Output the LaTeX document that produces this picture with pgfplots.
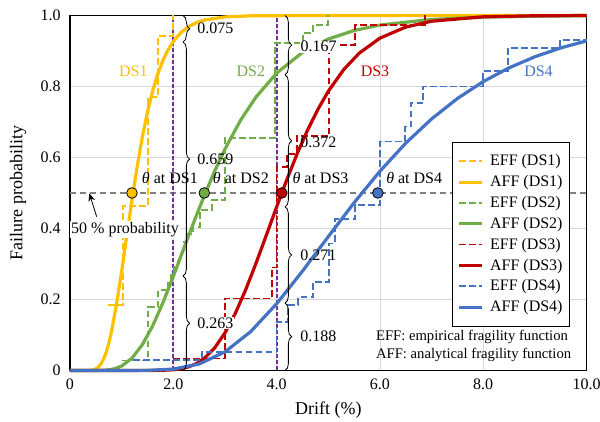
\documentclass[border=0pt]{standalone}
\usepackage{fontspec}
\setmainfont{Liberation Serif}
\usepackage{pgfplots}
\pgfplotsset{compat=1.18}
\usetikzlibrary{decorations.pathreplacing,arrows.meta}
\definecolor{cY}{HTML}{FFC000}
\definecolor{cG}{HTML}{70AD47}
\definecolor{cR}{HTML}{C00000}
\definecolor{cB}{HTML}{4472C4}
\definecolor{cV}{HTML}{7030A0}
\definecolor{cGray}{HTML}{7F7F7F}
\definecolor{cGrid}{HTML}{D9D9D9}
\tikzset{annot/.style={font=\fontsize{12}{14}\selectfont}}
\begin{document}
\begin{tikzpicture}
\begin{axis}[
  scale only axis, width=387.4pt, height=266.25pt,
  xmin=0, xmax=10, ymin=0, ymax=1,
  clip=false,
  xtick={0,2,4,6,8,10}, xticklabels={0,2.0,4.0,6.0,8.0,10.0},
  ytick={0,0.2,0.4,0.6,0.8,1}, yticklabels={0,0.2,0.4,0.6,0.8,1.0},
  /pgf/number format/assume math mode=true,
  grid=major, major grid style={draw=cGrid, line width=0.6pt},
  major tick length=0pt,
  axis line style={line width=1pt},
  tick label style={font=\fontsize{12}{14}\selectfont},
  xticklabel style={anchor=center, yshift=-10.1pt},
  yticklabel style={anchor=east, inner sep=0pt, xshift=-6.75pt},
  xlabel={Drift (\%)}, ylabel={Failure probability},
  label style={font=\fontsize{13.5}{16}\selectfont},
  xlabel style={at={(axis description cs:0.5,-0.111)}, anchor=center},
  ylabel style={at={(axis description cs:-0.1007,0.5)}, anchor=center},
  legend cell align=left,
  legend style={at={(0.739,0.6445)}, anchor=north west, draw=black, line width=0.6pt, fill=white,
    font=\fontsize{12}{14}\selectfont, inner xsep=4pt, inner ysep=8pt, row sep=2.8pt, column sep=3.5pt,
    nodes={inner sep=1.5pt}},
  eff/.style={line width=1.3pt, dash pattern=on 5pt off 2.5pt, const plot},
  aff/.style={line width=2.4pt, line join=round},
]
% reference lines
\addplot[forget plot, draw=cGray, line width=1.1pt, dash pattern=on 4.5pt off 3pt] coordinates {(0,0.5)(10,0.5)};
\addplot[forget plot, draw=cV, line width=1.4pt, dash pattern=on 3pt off 1.5pt] coordinates {(2,0)(2,1)};
\addplot[forget plot, draw=cV, line width=1.4pt, dash pattern=on 3pt off 1.5pt] coordinates {(4,0)(4,1)};

% DS1
\addplot[eff, draw=cY] coordinates {(0.742,0.184)(1.02,0.463)(1.516,0.77)(1.71,0.942)(2.0,1.0)};
\addlegendentry{EFF (DS1)}
\addplot[aff, draw=cY] coordinates {(0,0)(0.3,0)(0.4,0.0005)(0.45,0.0017)(0.5,0.0043)(0.55,0.0096)(0.6,0.0184)(0.65,0.032)(0.7,0.0511)(0.75,0.0762)(0.8,0.1073)(0.9,0.1854)(1.0,0.2793)(1.1,0.3802)(1.2,0.4805)(1.3,0.5741)(1.4,0.6572)(1.5,0.7283)(1.6,0.7873)(1.7,0.8355)(1.8,0.8737)(1.9,0.9037)(2.0,0.927)(2.15,0.9522)(2.3,0.9689)(2.45,0.9799)(2.6,0.987)(3.0,0.9959)(3.5,0.999)(4.5,0.9999)(10,1.0)};
\addlegendentry{AFF (DS1)}
% DS2
\addplot[eff, draw=cG] coordinates {(1.0,0.028)(1.516,0.179)(1.71,0.226)(1.90,0.246)(1.96,0.269)(2.02,0.292)(2.08,0.315)(2.14,0.338)(2.20,0.362)(2.26,0.385)(2.387,0.405)(2.517,0.452)(2.743,0.48)(3.0,0.654)(3.97,0.922)(4.505,0.95)(4.71,0.973)(5.0,1.0)};
\addlegendentry{EFF (DS2)}
\addplot[aff, draw=cG] coordinates {(0,0)(0.4,0)(0.6,0.0003)(0.7,0.0011)(0.8,0.0029)(0.9,0.0065)(1.0,0.0125)(1.2,0.0347)(1.4,0.0725)(1.6,0.1257)(1.8,0.1913)(2.0,0.265)(2.2,0.3424)(2.4,0.4192)(2.6,0.4928)(2.8,0.5614)(3.0,0.6236)(3.3,0.7043)(3.6,0.77)(4.0,0.8375)(4.5,0.8958)(5.0,0.9336)(5.5,0.9577)(6.0,0.973)(7.0,0.9888)(8.0,0.9953)(9.0,0.9979)(10,0.9991)};
\addlegendentry{AFF (DS2)}
% DS3
\addplot[eff, draw=cR] coordinates {(2.0,0.034)(3.0,0.203)(3.905,0.29)(4.0,0.574)(4.196,0.61)(4.39,0.66)(5.02,0.917)(5.518,0.973)(6.873,1.0)};
\addlegendentry{EFF (DS3)}
\addplot[aff, draw=cR] coordinates {(0,0)(1.4,0)(1.6,0.0001)(1.8,0.0005)(2.0,0.002)(2.15,0.0049)(2.3,0.0104)(2.45,0.0197)(2.6,0.0342)(2.8,0.0635)(3.0,0.1057)(3.2,0.1608)(3.4,0.227)(3.6,0.3015)(3.8,0.3806)(4.0,0.4606)(4.2,0.5384)(4.4,0.6112)(4.6,0.6773)(4.8,0.7357)(5.0,0.7864)(5.3,0.8478)(5.6,0.8939)(6.0,0.9361)(6.5,0.9673)(7.0,0.9838)(8.0,0.9963)(9.0,0.9992)(10,0.9998)};
\addlegendentry{AFF (DS3)}
% DS4
\addplot[eff, draw=cB] coordinates {(1.226,0.0296)(2.55,0.051)(4.0,0.137)(4.226,0.185)(4.42,0.206)(4.71,0.25)(5.02,0.358)(5.13,0.426)(5.518,0.466)(6.0,0.645)(6.486,0.687)(6.596,0.753)(6.84,0.80)(8.0,0.844)(8.486,0.908)(9.487,0.931)(10,0.931)};
\addlegendentry{EFF (DS4)}
\addplot[aff, draw=cB] coordinates {(0,0)(1.0,0)(1.5,0.0003)(2.0,0.0039)(2.5,0.0183)(3.0,0.0523)(3.5,0.1097)(4.0,0.1879)(4.5,0.2797)(5.0,0.3769)(5.5,0.4725)(6.0,0.5612)(6.5,0.6403)(7.0,0.7085)(7.5,0.7661)(8.0,0.8137)(8.5,0.8525)(9.0,0.8837)(9.5,0.9086)(10,0.9284)};
\addlegendentry{AFF (DS4)}

% median markers
\addplot[forget plot, only marks, mark=*, mark size=4pt, mark options={fill=cY, draw=black, line width=0.6pt}] coordinates {(1.2,0.5)};
\addplot[forget plot, only marks, mark=*, mark size=4pt, mark options={fill=cG, draw=black, line width=0.6pt}] coordinates {(2.6,0.5)};
\addplot[forget plot, only marks, mark=*, mark size=4pt, mark options={fill=cR, draw=black, line width=0.6pt}] coordinates {(4.1,0.5)};
\addplot[forget plot, only marks, mark=*, mark size=4pt, mark options={fill=cB, draw=black, line width=0.6pt}] coordinates {(5.96,0.5)};

% theta labels
\node[annot, anchor=west, inner sep=0pt] at (axis cs:1.388,0.543) {\textit{θ} at DS1};
\node[annot, anchor=west, inner sep=0pt] at (axis cs:2.763,0.543) {\textit{θ} at DS2};
\node[annot, anchor=west, inner sep=0pt] at (axis cs:4.304,0.543) {\textit{θ} at DS3};
\node[annot, anchor=west, inner sep=0pt] at (axis cs:6.118,0.543) {\textit{θ} at DS4};

% DS labels
\node[annot, text=cY] at (axis cs:1.226,0.844) {DS1};
\node[annot, text=cG] at (axis cs:3.50,0.844) {DS2};
\node[annot, text=cR] at (axis cs:5.905,0.844) {DS3};
\node[annot, text=cB] at (axis cs:9.07,0.844) {DS4};

% braces at 2.0
\draw[decorate, decoration={brace, amplitude=5pt}, line width=0.6pt] (axis cs:2.188,1.0) -- (axis cs:2.188,0.925);
\draw[decorate, decoration={brace, amplitude=5pt}, line width=0.6pt] (axis cs:2.188,0.925) -- (axis cs:2.188,0.266);
\draw[decorate, decoration={brace, amplitude=5pt}, line width=0.6pt] (axis cs:2.188,0.266) -- (axis cs:2.188,0.0);
\node[annot, anchor=west, inner sep=0pt] at (axis cs:2.459,0.9625) {0.075};
\node[annot, anchor=west, inner sep=0pt] at (axis cs:2.459,0.5955) {0.659};
\node[annot, anchor=west, inner sep=0.5pt, fill=white] at (axis cs:2.45,0.133) {0.263};
% braces at 4.0
\draw[decorate, decoration={brace, amplitude=5pt}, line width=0.6pt] (axis cs:4.163,1.0) -- (axis cs:4.163,0.833);
\draw[decorate, decoration={brace, amplitude=5pt}, line width=0.6pt] (axis cs:4.163,0.833) -- (axis cs:4.163,0.461);
\draw[decorate, decoration={brace, amplitude=5pt}, line width=0.6pt] (axis cs:4.163,0.461) -- (axis cs:4.163,0.19);
\draw[decorate, decoration={brace, amplitude=5pt}, line width=0.6pt] (axis cs:4.163,0.19) -- (axis cs:4.163,0.0);
\node[annot, anchor=west, inner sep=0.5pt, fill=white] at (axis cs:4.445,0.912) {0.167};
\node[annot, anchor=west, inner sep=0pt] at (axis cs:4.453,0.643) {0.372};
\node[annot, anchor=west, inner sep=0pt] at (axis cs:4.453,0.3255) {0.271};
\node[annot, anchor=west, inner sep=0pt] at (axis cs:4.453,0.095) {0.188};

% 50 % probability
\node[annot, fill=white, inner sep=1pt] at (axis cs:1.065,0.396) {50 \% probability};
\draw[-{Stealth[length=6pt,width=5pt]}, line width=0.6pt] (axis cs:0.517,0.433) -- (axis cs:0.374,0.499);

% notes
\node[anchor=west, inner sep=0pt, font=\fontsize{11}{13}\selectfont] at (axis cs:5.92,0.095) {EFF: empirical fragility function};
\node[anchor=west, inner sep=0pt, font=\fontsize{11}{13}\selectfont] at (axis cs:5.92,0.044) {AFF: analytical fragility function};
\end{axis}
\pgfresetboundingbox
\path[use as bounding box] (-52.5pt,-38.6pt) rectangle (397.5pt,277.85pt);
\end{tikzpicture}
\end{document}
